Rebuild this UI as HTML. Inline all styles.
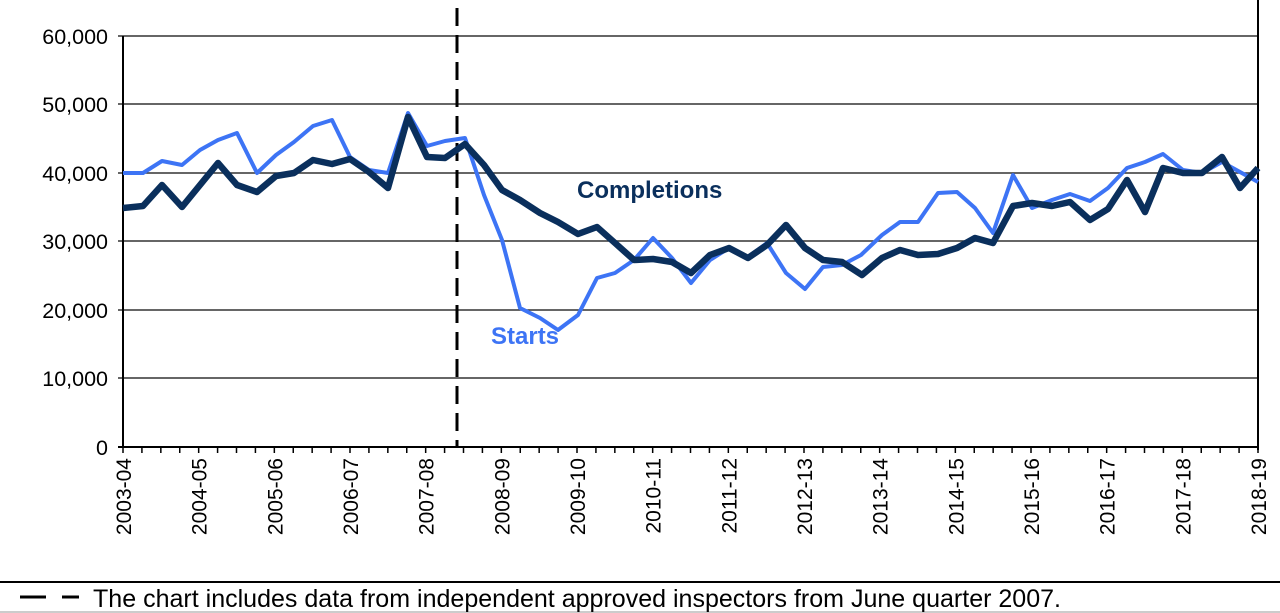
<!DOCTYPE html>
<html><head><meta charset="utf-8"><style>
body{margin:0;background:#fff;width:1280px;height:613px;overflow:hidden}
svg{display:block;font-family:"Liberation Sans",Arial,sans-serif}
</style></head><body>
<svg width="1280" height="613" viewBox="0 0 1280 613">
<g stroke="#333" stroke-width="1.5">
<line x1="118" y1="36" x2="1258" y2="36"/>
<line x1="118" y1="104" x2="1258" y2="104"/>
<line x1="118" y1="173" x2="1258" y2="173"/>
<line x1="118" y1="241" x2="1258" y2="241"/>
<line x1="118" y1="310" x2="1258" y2="310"/>
<line x1="118" y1="378" x2="1258" y2="378"/>
</g>
<line x1="118" y1="447" x2="1258" y2="447" stroke="#000" stroke-width="2"/>
<line x1="123" y1="36" x2="123" y2="447" stroke="#000" stroke-width="2"/>
<line x1="1258" y1="0" x2="1258" y2="450" stroke="#000" stroke-width="2"/>
<g id="ticks" stroke="#000" stroke-width="1.5"></g>
<g font-size="21.5" text-anchor="end" fill="#000">
<text x="108" y="44">60,000</text>
<text x="108" y="112">50,000</text>
<text x="108" y="181">40,000</text>
<text x="108" y="249">30,000</text>
<text x="108" y="318">20,000</text>
<text x="108" y="386">10,000</text>
<text x="108" y="455">0</text>
</g>
<g id="xl" font-size="21" text-anchor="end" fill="#000"></g>
<line x1="457" y1="8" x2="457" y2="447" stroke="#000" stroke-width="3" stroke-dasharray="18,9"/>
<polyline fill="none" stroke="#3d74f5" stroke-width="4" stroke-linejoin="round" points="123,173 143,173 162,161 182,165 200,150 218,140 237,133 257,173 276,155 294,142 313,126 332,120 350,157 369,170 388,173 408,113 427,146 445,141 465,138 484,195 502,240 520,308 540,318 558,330 578,315 597,278 615,273 634,260 653,238 672,258 691,283 710,260 729,248 748,257 767,243 786,273 805,289 823,267 842,265 861,255 882,235 900,222 918,222 938,193 957,192 975,208 993,233 1013,175 1032,208 1052,200 1070,194 1090,201 1108,188 1127,168 1145,162 1163,154 1183,170 1202,173 1222,162 1240,172 1258,182"/>
<polyline fill="none" stroke="#0a2f5c" stroke-width="6.5" stroke-linejoin="round" points="123,208 143,206 162,185 182,207 200,185 218,163 237,185 257,192 276,176 294,173 313,160 332,164 350,159 369,172 388,188 408,117 427,157 445,158 465,144 484,165 502,190 520,200 540,213 558,222 578,234 597,227 615,243 634,260 653,259 672,262 691,273 710,255 729,248 748,258 767,245 786,225 805,248 823,260 842,262 862,275 882,258 900,250 918,255 938,254 957,248 975,238 993,243 1013,206 1032,203 1052,206 1070,202 1090,220 1108,209 1127,180 1145,212 1163,168 1183,173 1202,173 1222,157 1240,188 1258,168"/>
<text x="577" y="198" font-size="24" font-weight="bold" fill="#0a2f5c">Completions</text>
<text x="491" y="344" font-size="24" font-weight="bold" fill="#3d74f5">Starts</text>
<line x1="0" y1="582" x2="1280" y2="582" stroke="#000" stroke-width="2"/>
<line x1="0" y1="612" x2="1280" y2="612" stroke="#999" stroke-width="1"/>
<line x1="20" y1="597" x2="46" y2="597" stroke="#000" stroke-width="3"/>
<line x1="62" y1="597" x2="79" y2="597" stroke="#000" stroke-width="3"/>
<text x="93" y="607" font-size="25" fill="#000" textLength="968" lengthAdjust="spacingAndGlyphs">The chart includes data from independent approved inspectors from June quarter 2007.</text>
</svg>
<script>
var t=document.getElementById('ticks'),s='';
for(var i=0;i<=60;i++){var x=123+i*(1135/60);s+='<line x1="'+x+'" y1="447" x2="'+x+'" y2="453"/>';}
t.innerHTML=s;
var xl=document.getElementById('xl'),h='';
for(var k=0;k<16;k++){var x=123+k*75.67+8;var y=(2003+k)+'-'+String((4+k)%100).padStart(2,'0');
h+='<text transform="translate('+x+',458) rotate(-90)">'+y+'</text>';}
xl.innerHTML=h;
</script>
</body></html>
